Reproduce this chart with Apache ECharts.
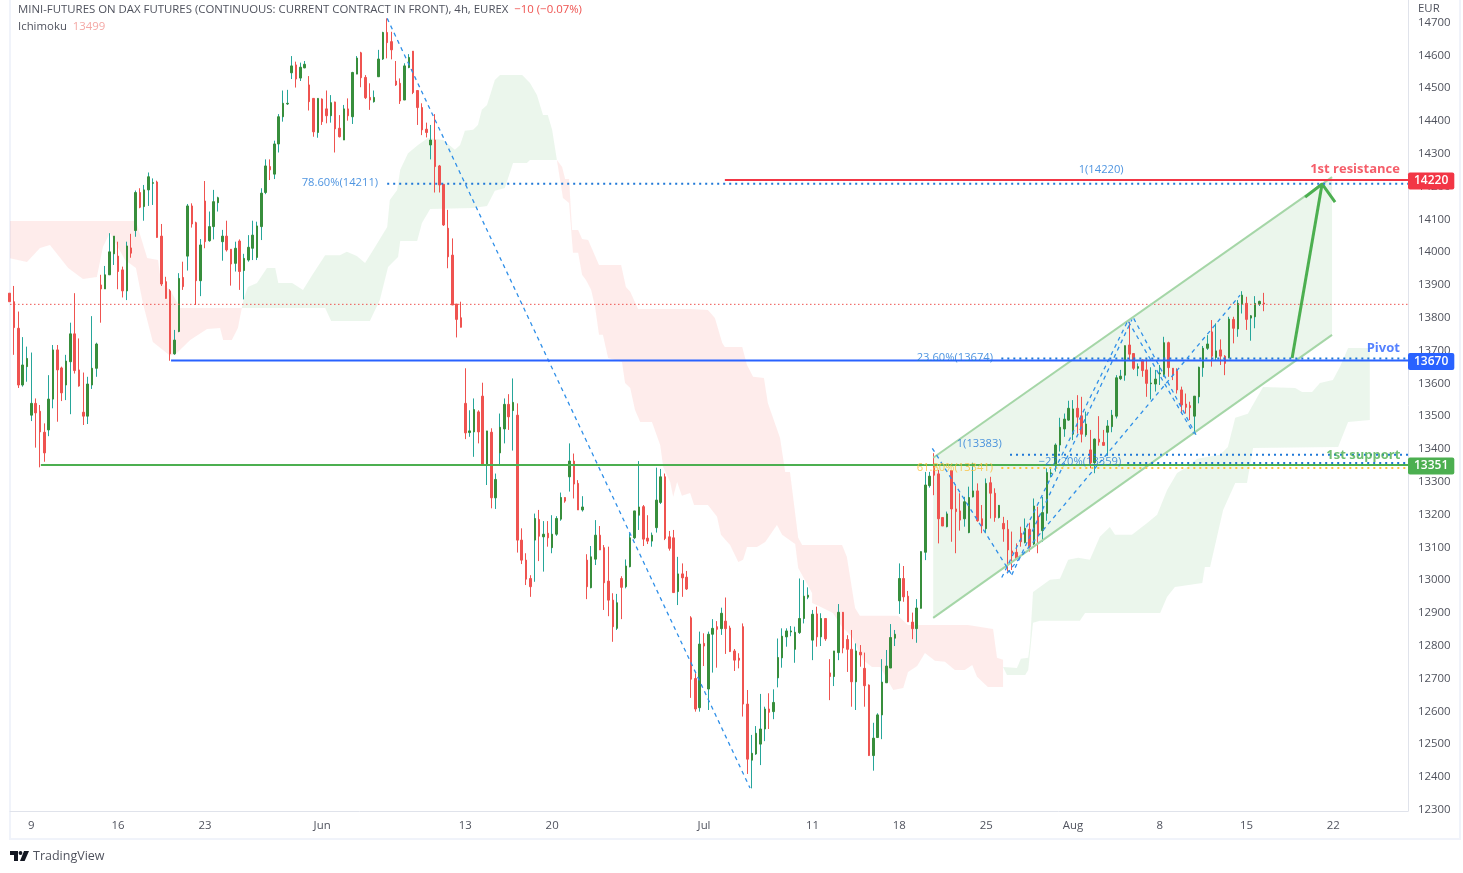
<!DOCTYPE html>
<html>
<head>
<meta charset="utf-8">
<title>Mini DAX futures 4h</title>
<script src="https://cdn.jsdelivr.net/npm/echarts@6/dist/echarts.min.js"></script>
<style>
  html, body { margin: 0; padding: 0; background: #fff; }
  #main { width: 1463px; height: 873px; }
</style>
</head>
<body>
<div id="main"></div>
<script>
// bar values, one entry per 4h bar
const opens = [
  13875,13849,13768,13595,13651,13503,13539,13515,13451,13458,
  13552,13702,13647,13595,13666,13751,13641,13512,13500,13595,
  13646,13900,13888,13931,13995,13988,13946,13882,14013,14066,
  14182,14139,14190,14210,14214,14049,13910,13882,13690,13758,
  13923,13988,14141,14090,13913,14156,14035,14078,14151,14032,
  14049,14009,13966,14034,13944,13976,14012,13984,14078,14182,
  14261,14238,14330,14413,14452,14547,14571,14531,14562,14510,
  14469,14365,14467,14437,14416,14458,14378,14342,14437,14413,
  14543,14608,14533,14472,14459,14535,14589,14670,14642,14522,
  14515,14464,14563,14613,14493,14441,14375,14327,14342,14263,
  14207,14073,13991,13842,13800,13539,13450,13452,13513,13561,
  13351,13451,13251,13388,13461,13536,13517,13503,13122,13061,
  13005,13122,13185,13132,13143,13099,13140,13186,13252,13315,
  13363,13295,13214,13061,12977,13064,13137,13099,12997,12939,
  12853,13005,12980,13041,13129,13198,13224,13128,13119,13160,
  13237,13315,13132,13129,12965,13019,13009,12885,12700,12611,
  12807,12668,12835,12858,12852,12875,12854,12784,12762,12858,
  12622,12451,12470,12500,12546,12607,12599,12702,12763,12827,
  12842,12789,12840,12883,12948,12817,12897,12827,12883,12717,
  12706,12779,12902,12819,12789,12690,12780,12731,12680,12465,
  12520,12589,12687,12732,12823,12937,13005,12951,12872,12852,
  12914,13085,13288,13354,13324,13191,13163,13334,13217,13211,
  13187,13145,13254,13272,13187,13157,13297,13265,13191,13173,
  13155,13089,13085,13143,13115,13155,13110,13195,13151,13204,
  13325,13351,13412,13461,13488,13445,13524,13501,13443,13397,
  13358,13430,13420,13451,13468,13500,13614,13625,13717,13691,
  13646,13671,13641,13599,13598,13629,13627,13724,13646,13639,
  13580,13537,13532,13500,13559,13648,13707,13757,13679,13702,
  13683,13678,13795,13766,13842,13844,13799,13803,13842,13845
]
const closes = [
  13849,13770,13595,13656,13676,13539,13510,13452,13388,13552,
  13702,13641,13571,13668,13751,13639,13592,13500,13598,13646,
  13720,13888,13931,14001,14049,13941,13882,14019,13997,14182,
  14137,14190,14230,14212,14045,13903,13859,13690,13732,13920,
  13895,14141,14086,13913,14022,14032,14078,14154,14166,14049,
  14007,13964,14012,13941,13981,14015,14052,14080,14180,14263,
  14251,14330,14413,14454,14454,14568,14528,14564,14573,14459,
  14367,14469,14398,14416,14456,14376,14352,14437,14416,14548,
  14592,14532,14471,14464,14472,14589,14670,14639,14617,14510,
  14461,14568,14594,14487,14441,14373,14365,14342,14261,14205,
  14083,13986,13839,13795,13771,13449,13455,13520,13452,13351,
  13455,13251,13307,13466,13536,13498,13542,13122,13061,13003,
  12980,13188,13134,13140,13129,13140,13188,13252,13241,13363,
  13293,13214,13223,12980,13071,13137,13092,12992,12939,12858,
  12931,12978,13043,13129,13211,13223,13125,13119,13137,13244,
  13315,13127,13097,12962,13019,13007,12973,12698,12607,12805,
  12799,12835,12853,12850,12899,12852,12782,12756,12756,12622,
  12454,12472,12533,12546,12607,12597,12627,12764,12829,12845,
  12845,12841,12883,12951,12954,12896,12827,12883,12821,12706,
  12784,12902,12793,12789,12690,12784,12772,12678,12465,12518,
  12589,12689,12738,12825,12835,13005,12949,12873,12852,12915,
  13087,13290,13317,13320,13187,13165,13202,13217,13209,13183,
  13239,13252,13272,13181,13166,13295,13265,13191,13228,13156,
  13092,13082,13066,13117,13158,13102,13226,13138,13206,13328,
  13327,13412,13466,13491,13524,13522,13497,13445,13476,13358,
  13430,13421,13411,13470,13503,13617,13622,13715,13689,13646,
  13651,13639,13600,13601,13613,13631,13724,13648,13625,13580,
  13534,13527,13526,13561,13649,13707,13720,13683,13699,13683,
  13661,13796,13768,13844,13869,13795,13806,13844,13850,13842
]
const lows = [
  13793,13687,13586,13590,13605,13485,13404,13344,13361,13439,
  13524,13483,13546,13549,13506,13630,13590,13473,13476,13583,
  13620,13785,13888,13931,13961,13887,13862,13854,13983,14047,
  14134,14096,14141,14144,14045,13897,13859,13669,13687,13756,
  13885,13944,14075,13839,13866,14012,14032,14039,14124,13974,
  14002,13898,13941,13885,13856,13971,13976,13976,14037,14177,
  14220,14223,14304,14398,14449,14528,14502,14522,14561,14432,
  14352,14349,14388,14393,14395,14304,14350,14342,14401,14391,
  14543,14503,14467,14434,14456,14535,14586,14591,14588,14507,
  14452,14464,14561,14482,14388,14357,14350,14283,14182,14182,
  14080,13951,13839,13740,13771,13430,13437,13376,13417,13351,
  13290,13219,13217,13354,13417,13458,13395,13084,13049,12985,
  12949,12995,13058,13026,13102,13082,13135,13181,13236,13270,
  13249,13214,13209,12942,12975,13046,13092,12909,12890,12812,
  12848,12881,12975,13039,13125,13153,13104,13110,13102,13145,
  13232,13122,13090,12962,12924,12949,12970,12641,12599,12599,
  12738,12604,12718,12733,12833,12775,12782,12723,12731,12584,
  12409,12365,12467,12436,12509,12546,12576,12673,12733,12797,
  12829,12748,12836,12868,12942,12756,12797,12799,12815,12634,
  12677,12756,12777,12720,12614,12604,12736,12614,12465,12419,
  12520,12515,12687,12732,12799,12897,12934,12873,12820,12809,
  12914,13061,13282,13259,13112,13165,13161,13117,13082,13151,
  13163,13143,13252,13178,13143,13143,13188,13178,13188,13117,
  13026,13031,13061,13102,13112,13087,13107,13082,13117,13181,
  13313,13331,13392,13437,13486,13427,13447,13420,13437,13341,
  13326,13410,13410,13381,13451,13493,13610,13608,13669,13641,
  13622,13620,13559,13551,13575,13595,13620,13620,13610,13569,
  13508,13508,13488,13445,13539,13620,13702,13651,13671,13656,
  13625,13676,13722,13742,13813,13763,13730,13768,13836,13820
]
const highs = [
  13910,13897,13819,13741,13712,13694,13554,13534,13478,13625,
  13717,13717,13651,13687,13785,13875,13737,13633,13620,13805,
  13724,13931,13958,14058,14049,14032,13956,14032,14056,14188,
  14195,14205,14243,14225,14218,14086,13925,13887,13763,13936,
  13971,14147,14149,14093,14040,14217,14124,14190,14169,14068,
  14096,14009,14032,14039,13995,14052,14096,14093,14195,14283,
  14283,14340,14421,14493,14495,14598,14581,14578,14583,14537,
  14469,14469,14469,14493,14479,14459,14418,14449,14469,14550,
  14598,14611,14540,14515,14493,14617,14672,14713,14672,14583,
  14530,14576,14604,14613,14493,14454,14395,14388,14421,14266,
  14207,14129,14042,13842,13849,13646,13518,13554,13518,13602,
  13455,13463,13325,13508,13554,13567,13615,13539,13158,13082,
  13015,13203,13214,13180,13180,13198,13195,13267,13252,13417,
  13386,13305,13256,13079,13104,13183,13165,13107,13102,12960,
  12958,13012,13063,13143,13211,13363,13229,13198,13145,13343,
  13339,13325,13150,13153,13071,13051,13028,12890,12716,12843,
  12838,12843,12881,12875,12916,12947,12861,12790,12777,12868,
  12665,12528,12555,12653,12614,12655,12667,12822,12853,12853,
  12860,12858,13005,13000,12978,12909,12919,12899,12883,12759,
  12784,12927,12902,12832,12848,12807,12802,12779,12682,12565,
  12594,12759,12787,12866,12848,13051,13043,12967,12901,12942,
  13087,13330,13330,13387,13336,13191,13209,13334,13287,13265,
  13254,13285,13358,13295,13229,13310,13315,13280,13229,13193,
  13183,13148,13112,13163,13188,13175,13249,13224,13254,13341,
  13341,13417,13495,13508,13547,13549,13564,13559,13514,13458,
  13432,13500,13458,13488,13519,13625,13641,13715,13788,13691,
  13661,13673,13673,13649,13641,13656,13742,13727,13646,13646,
  13590,13569,13544,13561,13651,13714,13747,13793,13783,13734,
  13686,13803,13803,13854,13881,13864,13808,13866,13852,13876
]

// time axis: label text and the bar it sits under
const tickLabels = ['9', '16', '23', 'Jun', '13', '20', 'Jul', '11', '18', '25', 'Aug', '8', '15', '22']
const tickBars = [5, 25, 45, 72, 105, 125, 160, 185, 205, 225, 245, 265, 285, 305]
const priceTicks = [
  12300, 12400, 12500, 12600, 12700, 12800, 12900, 13000, 13100, 13200, 13300, 13400, 13500,
  13600, 13700, 13800, 13900, 14000, 14100, 14200, 14300, 14400, 14500, 14600, 14700
]

// ichimoku cloud outlines, [bar, price]
const redCloudA = [
  [0,14095],[29.1,14095],[31.7,13982],[34.2,13976],[34.9,13906],[37,13885],[39.3,13830],[53.5,13830],
  [52.6,13769],[51.2,13732],[49.2,13732],[48.5,13769],[45.5,13766],[41.6,13732],[38.6,13693],[37,13684],
  [33,13726],[30.7,13845],[29.1,13952],[26.6,13976],[23.1,14059],[21.5,14016],[20.1,13924],[16.9,13918],
  [13.5,13952],[9.3,14022],[7,14013],[4,13970],[0,13982]
]
const greenCloudA = [
  [53.5,13830],[54,13860],[54.9,13894],[57,13906],[59.3,13952],[61.2,13952],[61.9,13906],[65.1,13906],
  [67.6,13885],[69.7,13930],[72.7,13991],[76.1,13991],[77.7,14001],[80,13988],[81.9,13967],[84.2,14016],
  [87,14077],[87.6,14159],[89.3,14190],[90,14251],[91.8,14302],[94.1,14327],[96.4,14348],[99.9,14342],
  [102.6,14312],[103.8,14327],[104.9,14370],[106.8,14373],[107.9,14388],[108.8,14434],[110,14449],
  [111.8,14525],[113,14540],[118.1,14540],[119.9,14516],[121.5,14479],[122.9,14418],[124,14418],
  [125,14373],[126.1,14281],[119.9,14281],[119.2,14272],[116,14272],[114.1,14196],[111.8,14187],
  [110,14141],[106.8,14135],[96.9,14132],[95,14089],[93.9,14034],[90,14034],[89.5,13985],[87.2,13955],
  [85.3,13854],[83,13790],[74.1,13790],[72.7,13830]
]
const redCloudB = [
  [126.1,14281],[127.3,14260],[128,14223],[128.9,14223],[129.6,14068],[131,14068],[131.9,14040],
  [133.3,14037],[135.8,13961],[140.9,13961],[142,13894],[143,13879],[144.8,13827],[156.8,13827],
  [160.9,13824],[162.5,13799],[164.2,13723],[164.8,13711],[168.8,13711],[169.9,13656],[171.3,13620],
  [173.8,13616],[174.7,13540],[177.5,13434],[178.7,13330],[179.8,13330],[181.7,13129],[182.6,13107],
  [191.8,13107],[192.9,13071],[194.8,12915],[195.9,12891],[204.7,12891],[207,12863],[220.8,12863],
  [226.6,12851],[227.5,12763],[228.9,12757],[228.9,12674],[225.4,12674],[222.9,12705],[221.8,12741],
  [220.1,12726],[217.8,12726],[215.5,12751],[213.2,12754],[210.9,12778],[209.1,12738],[207,12720],
  [205.9,12671],[203.6,12665],[200.6,12735],[198.7,12735],[196.6,12757],[194.1,12827],[191.8,12857],
  [189.7,12900],[187.4,12915],[184.9,12930],[184.9,12961],[181.7,13037],[181,13110],[178,13138],
  [176.8,13168],[174.1,13116],[172.2,13101],[169.9,13101],[169,13062],[167.9,13055],[166,13107],
  [163.9,13138],[163,13193],[160.9,13229],[157.7,13229],[156.8,13266],[154.9,13257],[153.8,13299],
  [152.9,13254],[152.2,13299],[150.6,13345],[149.9,13412],[148,13482],[145.3,13482],[144.1,13519],
  [143,13586],[141.8,13601],[141.1,13665],[137.9,13677],[136.7,13748],[135.8,13748],[134.9,13833],
  [134,13885],[132.8,13915],[131.9,13931],[131,13998],[129.8,13998],[128.9,14150],[127.5,14165]
]
const greenCloudB = [
  [228.9,12735],[232.1,12732],[233,12760],[234.7,12763],[235.1,12808],[235.8,12964],[239.7,13001],
  [242,13004],[243.9,13062],[246.2,13068],[248.9,13062],[251.2,13132],[253.5,13162],[254.7,13138],
  [258.6,13138],[262.1,13174],[264.4,13199],[266.7,13275],[269,13327],[271.3,13345],[273.6,13370],
  [278.9,13382],[280.7,13406],[282.4,13495],[285.3,13507],[288.8,13589],[296.2,13586],[297.8,13574],
  [300.1,13574],[301.9,13601],[304.9,13610],[306.5,13650],[308.4,13708],[313.4,13708],[313.4,13488],
  [308.4,13482],[306.1,13406],[286.5,13403],[285.1,13296],[282.4,13296],[279.6,13214],[276.6,13040],
  [275.4,13040],[274.8,12991],[268.5,12979],[266.7,12949],[265.1,12900],[247.8,12900],[246.6,12876],
  [237.4,12876],[235.8,12870],[234.7,12726],[234,12711],[229.8,12711]
]

// drawings on the chart
const channelBand = [[212.8,13373],[304.7,14229],[304.7,13748],[212.8,12885]]
const channelTop = [[212.8,13373],[304.7,14229]]
const channelBottom = [[212.8,12885],[304.7,13748]]
const arrowShaft = [[295.5,13677],[302.4,14208]]
const arrowHead = [[298.5,14168],[302.4,14208],[305.4,14153]]
const zigzags = [
  [[87,14713],[170.6,12366]],
  [[212.6,13402],[230.9,13016]],
  [[228.6,13008],[257.8,13795]],
  [[230.9,13016],[258.6,13795]],
  [[257.8,13788],[272.8,13447]],
  [[259,13798],[273.6,13437]],
  [[229.8,13021],[283.5,13869]]
]

const X_MIN = 0.09
const X_MAX = 322.2
const FONT = '"Open Sans", sans-serif'

// key levels with their axis tag
const levelNames = ['resistance', 'pivot', 'support']
const levelPrices = [14220, 13670, 13351]
const levelStart = [164.8, 37.2, 7.2]
const levelColors = ['#f23645', '#2962ff', '#4caf50']

// fib levels, dotted
const fibPrices = [14209, 13676, 13382, 13357, 13342]
const fibStart = [87, 228.5, 230.5, 257.5, 228.5]
const fibColors = ['#1f78d8', '#1f78d8', '#1f78d8', '#1f78d8', '#fdc13a']
const lastPrice = 13841

// text on the chart
const noteTexts = ['1(14220)', '78.60%(14211)', '23.60%(13674)', '61.80%(13341)', '1(13383)', '\u221227.20%(13359)',
  '1st resistance', 'Pivot', '1st support']
const noteBars = [251.5, 76.1, 217.8, 217.8, 223.4, 246.6, 310, 316.5, 311.9]
const notePrices = [14251, 14211, 13677, 13342, 13415, 13360, 14254, 13708, 13382]
const noteColors = ['#1f78d8', '#1f78d8', '#1f78d8', '#fdc13a', '#1f78d8', '#1f78d8', '#f23645', '#2962ff', '#4caf50']
const noteWeights = ['normal', 'normal', 'normal', 'normal', 'normal', 'normal', 'bold', 'bold', 'bold']

const wickRows = opens.map((o, i) => [i, o, closes[i], lows[i], highs[i]])
const bodyRows = opens.map((o, i) => [i, o, closes[i], Math.min(o, closes[i]), Math.max(o, closes[i])])

function polygonSeries(rows, fill) {
  return {
    type: 'custom',
    silent: true,
    clip: true,
    z: 1,
    data: rows,
    encode: { x: 0, y: 1 },
    renderItem: (params, api) => {
      if (params.dataIndex !== 0) return null
      return {
        type: 'polygon',
        shape: { points: rows.map((r) => api.coord(r)) },
        style: { fill: fill }
      }
    }
  }
}

function lineSeries(rows, color, width, type, z) {
  return {
    type: 'line',
    silent: true,
    data: rows,
    symbol: 'none',
    z: z || 5,
    lineStyle: { color: color, width: width, type: type || 'solid' }
  }
}

const series = [
  polygonSeries(redCloudA, 'rgba(244,67,54,0.1)'),
  polygonSeries(greenCloudA, 'rgba(76,175,80,0.11)'),
  polygonSeries(redCloudB, 'rgba(244,67,54,0.1)'),
  polygonSeries(greenCloudB, 'rgba(76,175,80,0.11)'),
  polygonSeries(channelBand, 'rgba(76,175,80,0.11)'),
  {
    type: 'candlestick',
    name: 'wicks',
    silent: true,
    z: 3,
    barWidth: 1,
    data: wickRows,
    itemStyle: { color: '#26a69a', color0: '#ef5350', borderColor: '#26a69a', borderColor0: '#ef5350', borderWidth: 1 }
  },
  {
    type: 'candlestick',
    name: 'bodies',
    silent: true,
    z: 4,
    barWidth: 2,
    data: bodyRows,
    itemStyle: { color: '#388e3c', color0: '#ef5350', borderColor: '#388e3c', borderColor0: '#ef5350', borderWidth: 1 }
  },
  lineSeries([[X_MIN, lastPrice], [X_MAX, lastPrice]], '#ef5350', 1, [1.5, 2.5]),
  lineSeries(channelTop, '#a5d6a7', 2),
  lineSeries(channelBottom, '#a5d6a7', 2),
  lineSeries(arrowShaft, '#4caf50', 3),
  lineSeries(arrowHead, '#4caf50', 3)
]

fibPrices.forEach((p, i) => {
  series.push(lineSeries([[fibStart[i], p], [X_MAX, p]], fibColors[i], 2, [2, 4]))
})
zigzags.forEach((z) => {
  series.push(lineSeries(z, '#2f8fe8', 1.3, [4, 4]))
})
levelPrices.forEach((p, i) => {
  const s = lineSeries([[levelStart[i], p], [X_MAX, p]], levelColors[i], 2, 'solid', 6)
  s.name = levelNames[i]
  s.endLabel = {
    show: true,
    distance: 0,
    offset: [0, 1],
    formatter: String(p),
    color: '#fff',
    backgroundColor: levelColors[i],
    borderRadius: 2,
    padding: [3, 6, 2, 6],
    fontFamily: FONT,
    fontSize: 12,
    fontWeight: 600
  }
  series.push(s)
})
series.push({
  type: 'scatter',
  silent: true,
  symbolSize: 0,
  z: 7,
  data: noteTexts.map((t, i) => ({
    value: [noteBars[i], notePrices[i]],
    label: {
      show: true,
      position: 'inside',
      formatter: t,
      color: noteColors[i],
      fontWeight: noteWeights[i],
      fontSize: noteWeights[i] === 'bold' ? 13 : 11.2,
      fontFamily: FONT
    }
  }))
})

const chart = echarts.init(document.getElementById('main'), null, { renderer: 'canvas' })
chart.setOption({
  animation: false,
  backgroundColor: '#fff',
  title: {
    left: 18,
    top: 2,
    itemGap: 2,
    text: 'MINI-FUTURES ON DAX FUTURES (CONTINUOUS: CURRENT CONTRACT IN FRONT), 4h, EUREX  {chg|\u221210 (\u22120.07%)}',
    subtext: 'Ichimoku  {ich|13499}',
    padding: 0,
    textStyle: {
      fontFamily: FONT,
      fontSize: 11.4,
      fontWeight: 'normal',
      color: '#50535e',
      lineHeight: 15,
      rich: { chg: { color: '#ef5350', fontFamily: FONT, fontSize: 11.4 } }
    },
    subtextStyle: {
      fontFamily: FONT,
      fontSize: 11.4,
      color: '#50535e',
      lineHeight: 15,
      rich: { ich: { color: '#f4a8a5', fontFamily: FONT, fontSize: 11.4 } }
    }
  },
  grid: { left: 10, right: 55, top: 0, bottom: 62, containLabel: false },
  xAxis: {
    type: 'value',
    min: X_MIN,
    max: X_MAX,
    splitLine: { show: false },
    axisTick: { show: false },
    axisLine: { show: true, lineStyle: { color: '#e0e3eb', width: 1 } },
    axisLabel: {
      customValues: tickBars,
      formatter: (v) => tickLabels[tickBars.indexOf(v)],
      color: '#50535e',
      fontFamily: FONT,
      fontSize: 11.4,
      margin: 9
    }
  },
  yAxis: {
    type: 'value',
    position: 'right',
    min: 12296,
    max: 14769,
    splitLine: { show: false },
    axisTick: { show: false },
    axisLine: { show: true, onZero: false, lineStyle: { color: '#e0e3eb', width: 1 } },
    axisLabel: {
      customValues: priceTicks,
      formatter: (v) => String(v),
      color: '#50535e',
      fontFamily: FONT,
      fontSize: 11.4,
      margin: 10
    }
  },
  graphic: [
    {
      type: 'rect',
      silent: true,
      shape: { x: 10, y: -2, width: 1450, height: 841 },
      style: { fill: null, stroke: '#f0f3fa', lineWidth: 2 }
    },
    {
      type: 'text',
      left: 1418,
      top: 3,
      style: { text: 'EUR', fill: '#50535e', font: '11.4px ' + FONT }
    },
    {
      type: 'text',
      left: 33,
      top: 850,
      style: { text: 'TradingView', fill: '#50535e', font: '12.5px ' + FONT }
    },
    {
      type: 'polygon',
      silent: true,
      shape: { points: [[10, 851], [18, 851], [18, 861], [14, 861], [14, 855], [10, 855]] },
      style: { fill: '#131722' }
    },
    {
      type: 'circle',
      silent: true,
      shape: { cx: 20.5, cy: 853, r: 1.9 },
      style: { fill: '#131722' }
    },
    {
      type: 'polygon',
      silent: true,
      shape: { points: [[24, 851], [29, 851], [24.6, 861], [20, 861]] },
      style: { fill: '#131722' }
    }
  ],
  series: series
})
</script>
</body>
</html>
